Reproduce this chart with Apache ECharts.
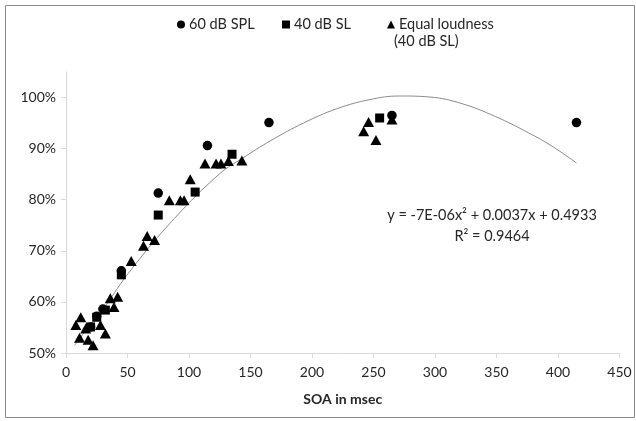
<!DOCTYPE html>
<html>
<head>
<meta charset="utf-8">
<script src="https://cdn.jsdelivr.net/npm/echarts@6/dist/echarts.min.js"></script>
<style>
  html, body { margin: 0; padding: 0; background: #fff; }
  #chart { width: 636px; height: 421px; }
</style>
</head>
<body>
<div id="chart"></div>
<script>
// values: [SOA msec, proportion]
const spl60 = [[20, 0.551], [25, 0.572], [30, 0.586], [45, 0.661], [75, 0.813], [115, 0.906], [165, 0.951], [265, 0.965], [415, 0.951]];
const sl40 = [[20, 0.551], [25, 0.570], [32, 0.584], [45, 0.653], [75, 0.770], [105, 0.815], [135, 0.889], [255, 0.960]];
const equalLoud = [
  [8, 0.555], [12, 0.570], [11, 0.530], [16, 0.548], [18, 0.526], [22, 0.515], [28, 0.555], [32, 0.538],
  [36, 0.607], [39, 0.590], [42, 0.610], [53, 0.680], [63, 0.710], [66, 0.729], [72, 0.721],
  [84, 0.799], [93, 0.799], [96, 0.799], [101, 0.840], [113, 0.871], [122, 0.871], [126, 0.871],
  [132, 0.876], [143, 0.877], [242, 0.934], [246, 0.952], [252, 0.917], [265, 0.957]
];
// trend line
const trend = [
  [7, 0.515], [20, 0.556], [28, 0.578], [51, 0.657], [88, 0.763], [125, 0.851], [144, 0.882],
  [166, 0.915], [193, 0.950], [220, 0.978], [247, 0.996], [271, 1.003], [296, 1.001], [322, 0.988],
  [349, 0.963], [376, 0.931], [395, 0.905], [415, 0.872]
];
const yTicks = [0.5, 0.6, 0.7, 0.8, 0.9, 1.0];
const legendNames = ['60 dB SPL', '40 dB SL', 'Equal loudness'];
const legendIcons = ['circle', 'rect', 'triangle'];
const equationLines = ['y = -7E-06x² + 0.0037x + 0.4933', 'R² = 0.9464'];

(function() {
  const chart = echarts.init(document.getElementById('chart'), null, { renderer: 'canvas' });
  const font = 'Lato, "Open Sans", sans-serif';
  const txt = '#262626';
  const axisGray = '#d9d9d9';
  const legendLeft = [172, 277, 382];

  const option = {
    backgroundColor: '#fff',
    animation: false,
    textStyle: { fontFamily: font },
    grid: { left: 66, right: 16.5, top: 72, bottom: 68 },
    // one legend per item so the uneven spacing of the original can be kept
    legend: legendNames.map((n, i) => ({
      left: legendLeft[i], top: 12,
      itemWidth: 8, itemHeight: 8,
      textStyle: { fontFamily: font, fontSize: 14.5, color: txt, padding: [0, 0, 0, -1] },
      data: [{ name: n, icon: legendIcons[i] }]
    })),
    xAxis: {
      type: 'value', min: 0, max: 450, interval: 50,
      name: 'SOA in msec', nameLocation: 'middle', nameGap: 39,
      nameTextStyle: { fontFamily: font, fontSize: 14, fontWeight: 'bold', color: txt },
      axisLine: { lineStyle: { color: axisGray } },
      axisTick: { show: true, inside: false, length: 5, lineStyle: { color: axisGray } },
      axisLabel: { fontFamily: font, fontSize: 14, color: txt, margin: 12 },
      splitLine: { show: false }
    },
    yAxis: {
      type: 'value', min: 0.5, max: 1.05,
      axisLine: { show: true, lineStyle: { color: axisGray } },
      axisTick: { show: true, inside: false, length: 5, lineStyle: { color: axisGray }, customValues: yTicks },
      axisLabel: {
        fontFamily: font, fontSize: 14, color: txt, margin: 10,
        customValues: yTicks,
        formatter: v => Math.round(v * 100) + '%'
      },
      splitLine: { show: false }
    },
    series: [
      {
        name: 'trend', type: 'line', data: trend, smooth: 0.4,
        showSymbol: false, symbol: 'none', silent: true, z: 1,
        lineStyle: { color: '#8c8c8c', width: 1 }
      },
      {
        name: legendNames[2], type: 'scatter', data: equalLoud,
        symbol: 'triangle', symbolSize: [11, 10], itemStyle: { color: '#000', opacity: 1 }, z: 2
      },
      {
        name: legendNames[1], type: 'scatter', data: sl40,
        symbol: 'rect', symbolSize: 9, itemStyle: { color: '#000', opacity: 1 }, z: 3
      },
      {
        name: legendNames[0], type: 'scatter', data: spl60,
        symbol: 'circle', symbolSize: 9.5, itemStyle: { color: '#000', opacity: 1 }, z: 4
      }
    ],
    graphic: [
      {
        type: 'rect', left: 3, top: 3, silent: true,
        shape: { width: 629, height: 412 },
        style: { fill: 'none', stroke: '#8a8a8a', lineWidth: 1 }
      },
      {
        type: 'text', left: 394, top: 34,
        style: { text: '(40 dB SL)', font: '14.5px ' + font, fill: txt }
      },
      {
        type: 'text', x: 492, y: 205,
        style: {
          text: equationLines.join('\n'), font: '14.5px ' + font, fill: txt,
          align: 'center', lineHeight: 21
        }
      }
    ]
  };

  chart.setOption(option);
  window.addEventListener('resize', () => chart.resize());
})();
</script>
</body>
</html>
